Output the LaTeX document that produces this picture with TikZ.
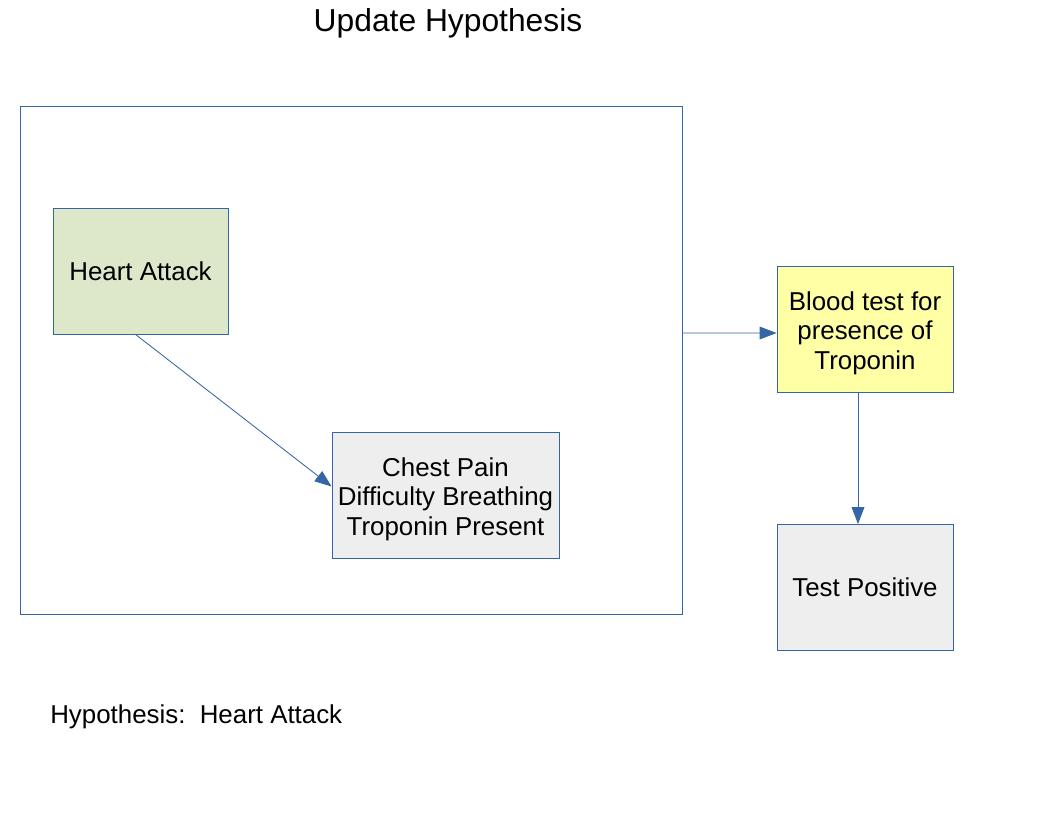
\documentclass[tikz,border=0pt]{standalone}
\usepackage{fontspec}
\setmainfont{Liberation Sans}
\usetikzlibrary{arrows.meta}
\definecolor{lineblue}{HTML}{3465A4}
\definecolor{hgreen}{HTML}{DDE8CB}
\definecolor{tyellow}{HTML}{FFFFA6}
\definecolor{boxgray}{HTML}{EEEEEE}

\begin{document}
\begin{tikzpicture}[x=0.025cm,y=-0.025cm,
        box/.style={shape=rectangle,draw=lineblue,line width=0.6pt,minimum width=175*0.025cm,minimum height=126*0.025cm,inner sep=0pt,align=center,font=\fontsize{18.4}{21}\selectfont},
        conn/.style={draw=lineblue,line width=0.6pt,-{Triangle[length=12pt,width=9pt]}}]
        \useasboundingbox (0,0) rectangle (1056,816);
        \node[font=\fontsize{22.6}{26}\selectfont] (title) at (448,23) {Update Hypothesis};
        \node[draw=lineblue,line width=0.6pt,minimum width=662*0.025cm,minimum height=508*0.025cm,inner sep=0pt] (frame) at (351,360) {};
        \node[box,fill=hgreen] (heart) at (140.5,271) {Heart Attack};
        \node[box,fill=boxgray,minimum width=227*0.025cm,text depth=-6pt] (chest) at (445.5,495.5) {\strut Chest Pain\\Difficulty Breathing\\Troponin Present};
        \node[box,fill=tyellow,minimum width=176*0.025cm,text depth=-6pt] (blood) at (865,329.5) {\strut Blood test for\\presence of\\ Troponin};
        \node[box,fill=boxgray,minimum width=176*0.025cm] (test) at (865,587.5) {Test Positive};
        \node[anchor=west,inner sep=0pt,font=\fontsize{18.4}{21}\selectfont] (hyp) at (50,717) {Hypothesis:\ \ Heart Attack};

	\path[conn] ([xshift=-5*0.025cm]heart.south) -- ([yshift=9*0.025cm]chest.west);
	\path[conn] ([yshift=27*0.025cm]frame.east) -- ([yshift=-3.5*0.025cm]blood.west);
	\path[conn] ([xshift=-7*0.025cm]blood.south) -- ([xshift=-7*0.025cm]test.north);
\end{tikzpicture}
\end{document}
